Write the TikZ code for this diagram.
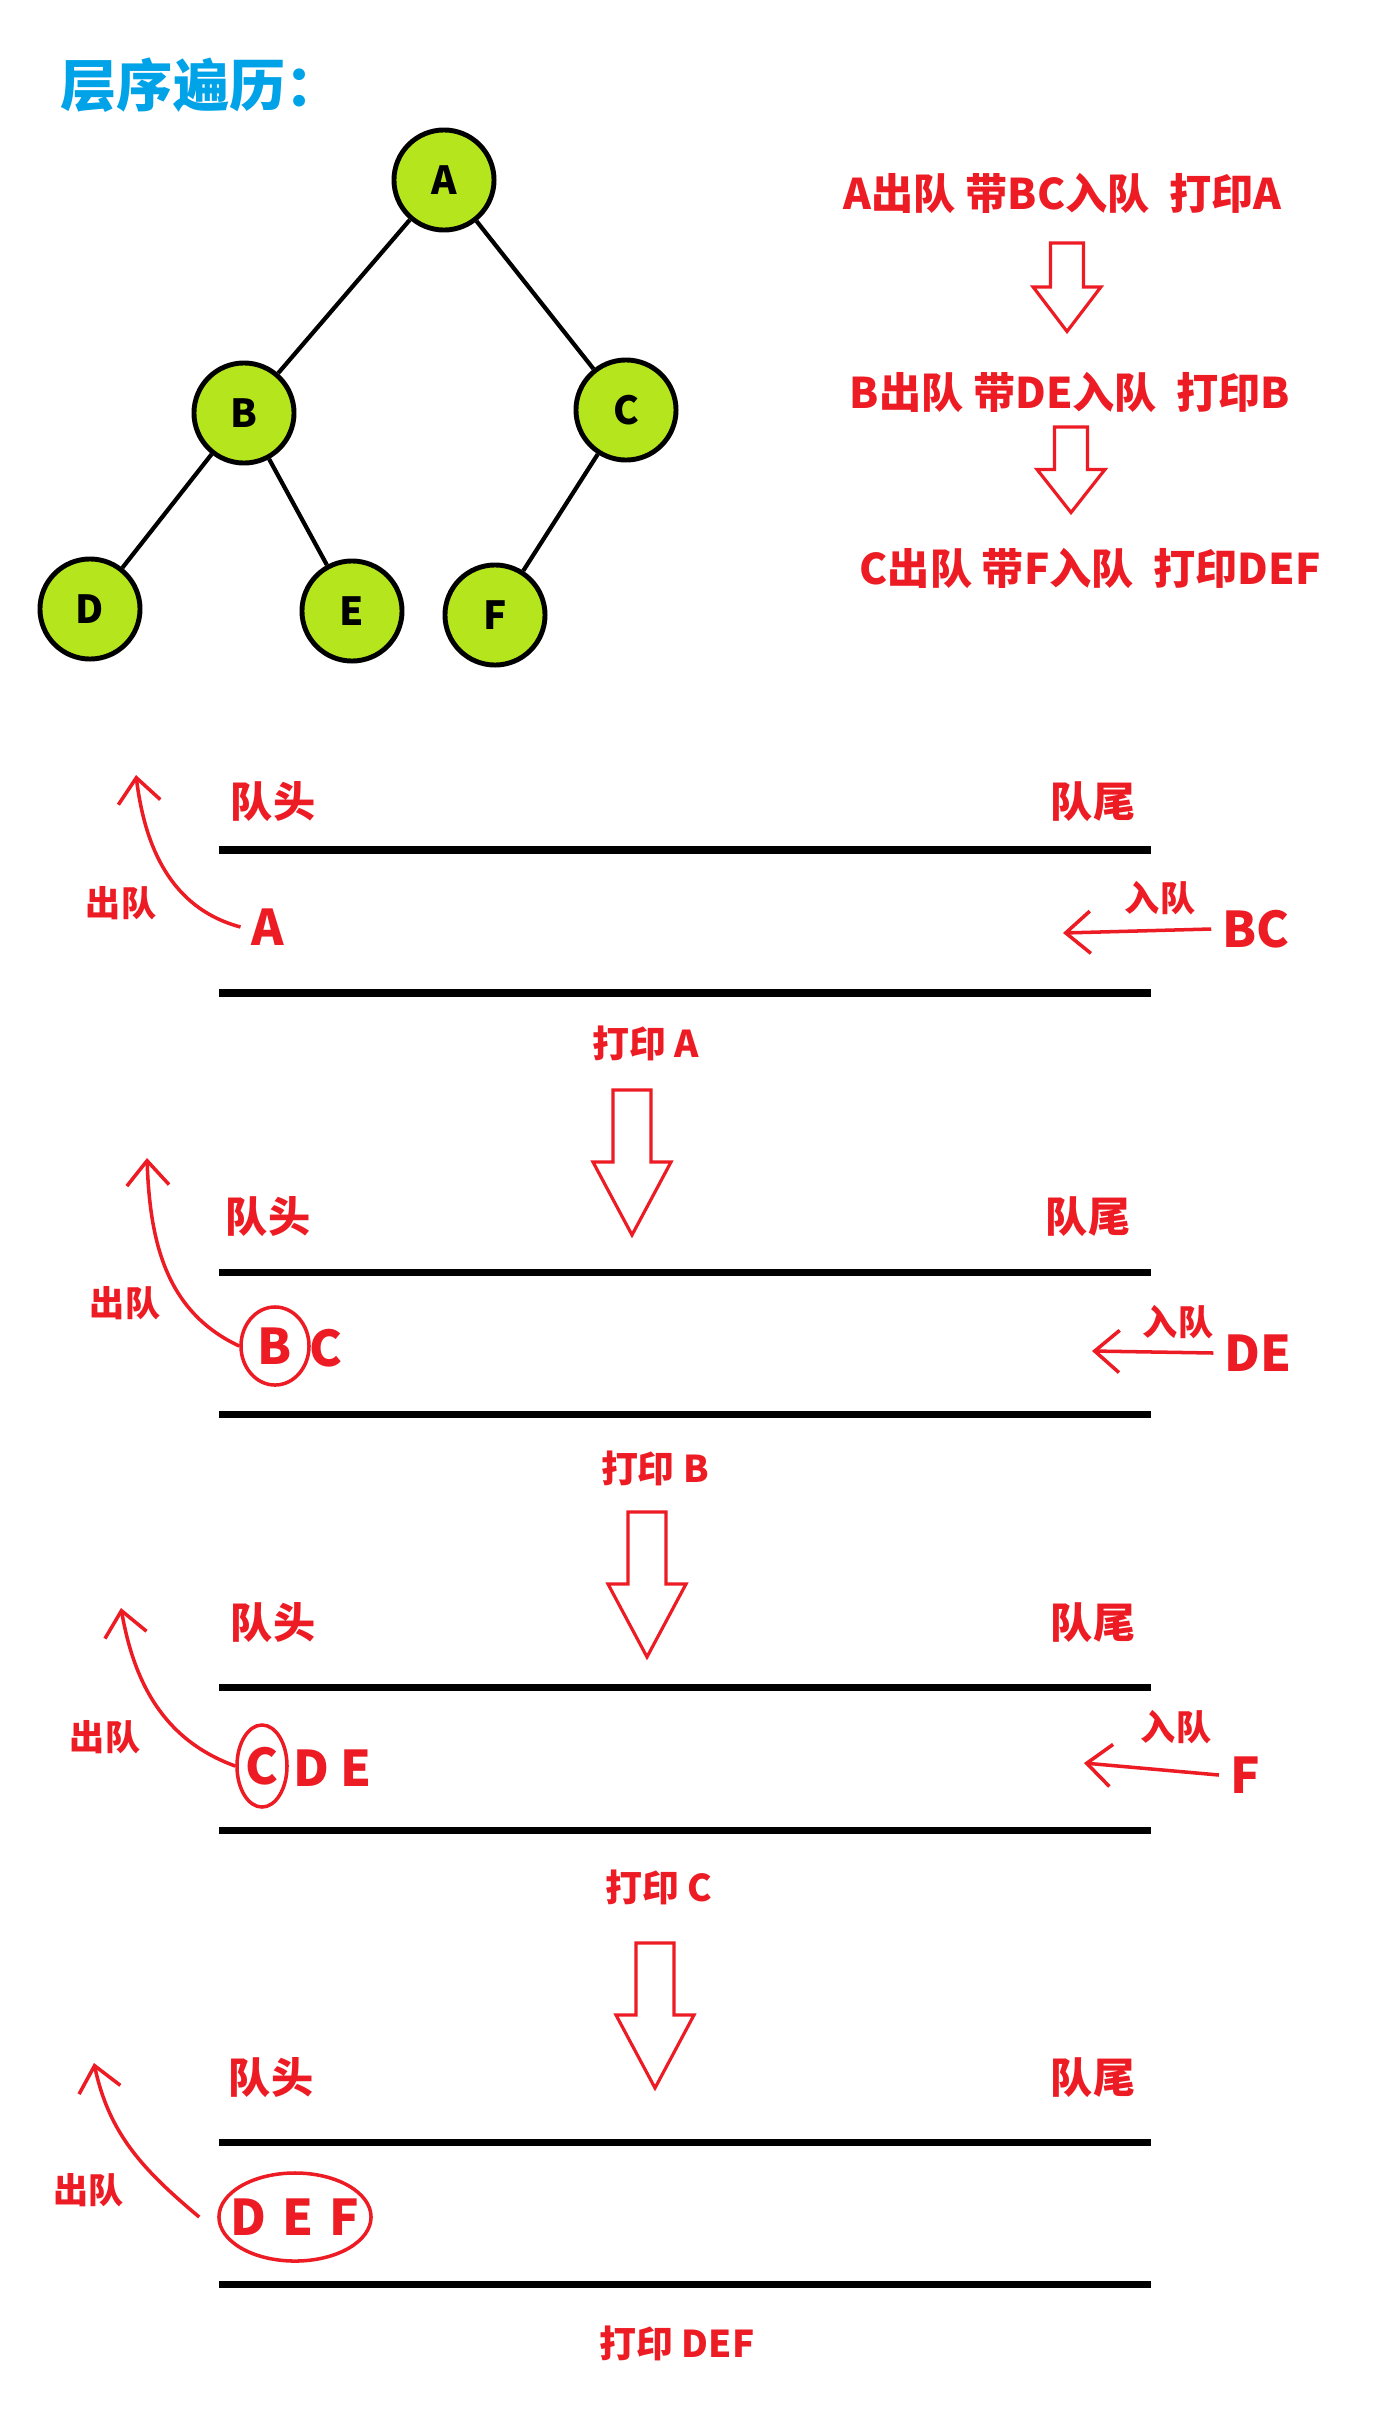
\documentclass[tikz,border=0pt]{standalone}
\usepackage{fontspec}
\setmainfont{Noto Sans CJK SC}
\usepackage{tikz}
\usetikzlibrary{arrows.meta, positioning, shapes.geometric}
\definecolor{qred}{RGB}{237, 28, 36}
\definecolor{qblue}{RGB}{0, 162, 232}
\definecolor{qlime}{RGB}{181, 230, 29}

\begin{document}
\begin{tikzpicture}[
    x=0.01cm, y=-0.01cm,
    tnode/.style={circle, draw, line width=1.4pt, fill=qlime,
                  minimum size=1cm, inner sep=0pt,
                  font=\fontsize{11}{13}\selectfont\bfseries},
    tedge/.style={line width=1.2pt},
    stepline/.style={anchor=west, inner sep=0pt, text=qred,
                  font=\fontsize{12}{14}\selectfont\bfseries},
    qlabel/.style={text=qred, font=\fontsize{12}{14}\selectfont\bfseries},
    qitem/.style={text=qred, inner sep=3pt,
                  font=\fontsize{14}{16}\selectfont\bfseries},
    qsmall/.style={text=qred, font=\fontsize{10}{12}\selectfont\bfseries},
    qprint/.style={text=qred, font=\fontsize{10.5}{12}\selectfont\bfseries},
    ring/.style={ellipse, draw=qred, line width=1pt, inner sep=0pt},
    qline/.style={line width=2pt},
    rarr/.style={draw=qred, line width=1pt,
                 -{Straight Barb[length=7pt, width=12pt]}},
    hollow/.pic={\draw[qred, line width=0.9pt]
        (-19,0) -- (19,0) -- (19,72) -- (39,72) -- (0,145)
        -- (-39,72) -- (-19,72) -- cycle;},
  ]
    \fill[white] (0,0) rectangle (1394,2424);

    % Title
    \node[anchor=west, inner sep=0pt, text=qblue,
          font=\fontsize{16}{18}\selectfont\bfseries] (title) at (60,85)
      {层序遍历：};

    % Binary tree
    \node[tnode] (A) at (444,180) {A};
    \node[tnode] (B) at (244,413) {B};
    \node[tnode] (C) at (626,410) {C};
    \node[tnode] (D) at (90,609)  {D};
    \node[tnode] (E) at (352,611) {E};
    \node[tnode] (F) at (495,615) {F};
    \draw[tedge] (A) -- (B);
    \draw[tedge] (A) -- (C);
    \draw[tedge] (B) -- (D);
    \draw[tedge] (B) -- (E);
    \draw[tedge] (C) -- (F);

    % Steps on the right
    \node[stepline] (s1) at (843,193) {A出队 带BC入队\ \ 打印A};
    \node[stepline] (s2) at (849,392) {B出队 带DE入队\ \ 打印B};
    \node[stepline] (s3) at (859,568) {C出队 带F入队\ \ 打印DEF};
    \pic[xscale=0.87, yscale=0.61] at (1067,243) {hollow};
    \pic[xscale=0.87, yscale=0.59] at (1071,427) {hollow};

    % Queue 1
    \node[qlabel] (h1) at (273,802) {队头};
    \node[qlabel] (t1) at (1093,802) {队尾};
    \draw[qline] (219,850) -- (1151,850);
    \draw[qline] (219,993) -- (1151,993);
    \node[qitem] (a1) at (268,927) {A};
    \node[qitem] (bc1) at (1256,929) {BC};
    \node[qsmall] (o1) at (121,903) {出队};
    \node[qsmall] (i1) at (1160,898) {入队};
    \coordinate (d1) at (136,775);
    \coordinate (e1) at (1063,933);
    \draw[rarr] (a1.west) to[out=165, in=-83] (d1);
    \draw[rarr] (bc1.west) -- (e1);
    \node[qprint] (p1) at (646,1043) {打印 A};
    \pic at (632,1090) {hollow};

    % Queue 2
    \node[qlabel] (h2) at (268,1217) {队头};
    \node[qlabel] (t2) at (1088,1217) {队尾};
    \draw[qline] (219,1272) -- (1151,1272);
    \draw[qline] (219,1414) -- (1151,1414);
    \node[qitem, ring, minimum width=0.68cm, minimum height=0.78cm]
      (b2) at (275,1346) {B};
    \node[qitem] (c2) at (326,1348) {C};
    \node[qitem] (de2) at (1258,1353) {DE};
    \node[qsmall] (o2) at (125,1303) {出队};
    \node[qsmall] (i2) at (1178,1322) {入队};
    \coordinate (d2) at (147,1158);
    \coordinate (e2) at (1092,1351);
    \draw[rarr] (b2.west) to[out=155, in=-88] (d2);
    \draw[rarr] (de2.west) -- (e2);
    \node[qprint] (p2) at (655,1468) {打印 B};
    \pic at (647,1512) {hollow};

    % Queue 3
    \node[qlabel] (h3) at (273,1623) {队头};
    \node[qlabel] (t3) at (1093,1623) {队尾};
    \draw[qline] (219,1687) -- (1151,1687);
    \draw[qline] (219,1830) -- (1151,1830);
    \node[qitem, ring, minimum width=0.5cm, minimum height=0.82cm]
      (c3) at (262,1766) {C};
    \node[qitem, anchor=west, inner sep=0pt] (de3) at (293,1768) {D E};
    \node[qitem] (f3) at (1245,1775) {F};
    \node[qsmall] (o3) at (105,1737) {出队};
    \node[qsmall] (i3) at (1176,1727) {入队};
    \coordinate (d3) at (121,1608);
    \coordinate (e3) at (1084,1763);
    \draw[rarr] (c3.west) to[out=160, in=-80] (d3);
    \draw[rarr] (f3.west) -- (e3);
    \node[qprint] (p3) at (659,1887) {打印 C};
    \pic at (655,1943) {hollow};

    % Queue 4
    \node[qlabel] (h4) at (271,2078) {队头};
    \node[qlabel] (t4) at (1093,2078) {队尾};
    \draw[qline] (219,2142) -- (1151,2142);
    \draw[qline] (219,2284) -- (1151,2284);
    \node[qitem, ring, minimum width=1.52cm, minimum height=0.88cm]
      (def4) at (295,2217) {\makebox[0pt]{D\,\,E\,\,F}};
    \node[qsmall] (o4) at (89,2190) {出队};
    \coordinate (d4) at (94,2063);
    \draw[rarr] (def4.west) ++(-18,0) to[out=140, in=-78] (d4);
    \node[qprint] (p4) at (677,2343) {打印 DEF};
\end{tikzpicture}
\end{document}
